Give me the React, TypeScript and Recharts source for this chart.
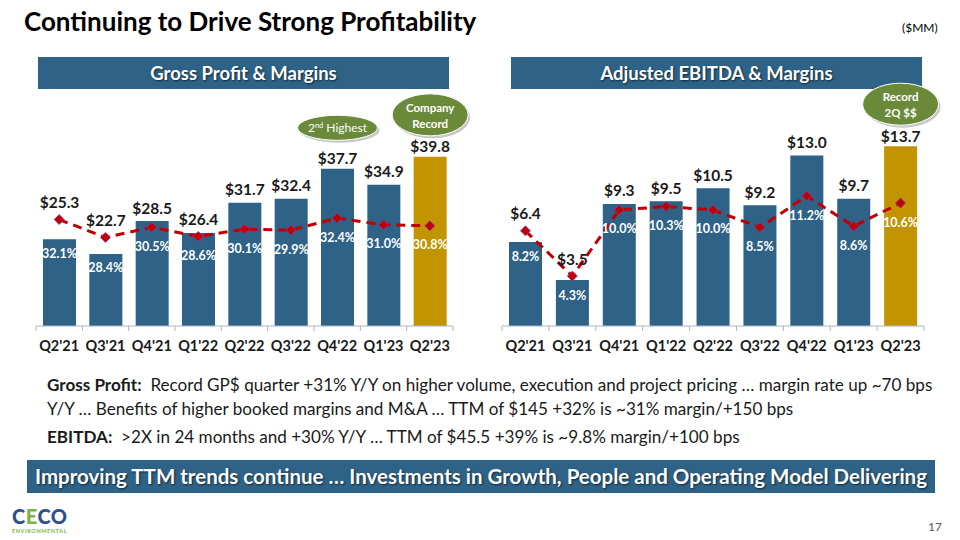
import React from 'react';
import { ComposedChart, Bar, Line, XAxis, YAxis, Cell, LabelList } from 'recharts';

const quarters = ["Q2'21", "Q3'21", "Q4'21", "Q1'22", "Q2'22", "Q3'22", "Q4'22", "Q1'23", "Q2'23"];
const grossProfit = [25.3, 22.7, 28.5, 26.4, 31.7, 32.4, 37.7, 34.9, 39.8];
const grossMargin = [32.1, 28.4, 30.5, 28.6, 30.1, 29.9, 32.4, 31.0, 30.8];
const ebitda = [6.4, 3.5, 9.3, 9.5, 10.5, 9.2, 13.0, 9.7, 13.7];
const ebitdaMargin = [8.2, 4.3, 10.0, 10.3, 10.0, 8.5, 11.2, 8.6, 10.6];
const highlightIndex = 8;
const gpBadges = [
  { index: 6, lines: ['2nd Highest'] },
  { index: 8, lines: ['Company', 'Record'] },
];
const ebitdaBadges = [{ index: 8, lines: ['Record', '2Q $$'] }];

const FONT = 'Lato, "Open Sans", sans-serif';
const BLUE = '#2e6286';
const GOLD = '#c29400';
const RED = '#c00000';
const GREEN = '#6a8a3a';
const DARK = '#1a1a1a';

type Badge = { index: number; lines: string[] };

function buildData(values: number[], margins: number[]) {
  return quarters.map((q, i) => ({ q, v: values[i], m: margins[i] }));
}

function Diamond(props: any) {
  const { cx, cy } = props;
  if (cx == null || cy == null) return null;
  const r = 5;
  return (
    <path
      d={`M${cx},${cy - r} L${cx + r},${cy} L${cx},${cy + r} L${cx - r},${cy} Z`}
      fill={RED}
      stroke="#8a3aa8"
      strokeWidth={0.8}
    />
  );
}

function sup(s: string) {
  const m = s.match(/^(\d+)(st|nd|rd|th)(.*)$/);
  if (!m) return s;
  return (
    <>
      {m[1]}
      <tspan fontSize={7.5} dy={-4}>
        {m[2]}
      </tspan>
      <tspan dy={4}>{m[3]}</tspan>
    </>
  );
}

function BadgeShape({ cx, cy, lines }: { cx: number; cy: number; lines: string[] }) {
  const two = lines.length > 1;
  const rx = two ? 38 : 40;
  const ry = two ? 21 : 12.5;
  return (
    <g>
      <ellipse cx={cx + 2} cy={cy + 2.5} rx={rx} ry={ry} fill="#9a9a9a" opacity={0.55} />
      <ellipse cx={cx} cy={cy} rx={rx} ry={ry} fill={GREEN} stroke="#ffffff" strokeWidth={1} />
      {two ? (
        lines.map((l, i) => (
          <text
            key={i}
            x={cx}
            y={cy + (i === 0 ? -3 : 13)}
            textAnchor="middle"
            fill="#ffffff"
            fontFamily={FONT}
            fontWeight={700}
            fontSize={11.5}
          >
            {l}
          </text>
        ))
      ) : (
        <text x={cx} y={cy + 4} textAnchor="middle" fill="#ffffff" fontFamily={FONT} fontSize={12}>
          {sup(lines[0])}
        </text>
      )}
    </g>
  );
}

function makeBarLabel(
  values: number[],
  margins: number[],
  yDomain: [number, number],
  mDomain: [number, number],
  badges: Badge[]
) {
  return (props: any) => {
    const { x, y, width, height, index } = props;
    const v = values[index];
    const bottom = y + height;
    const pxPerUnit = height / (v - yDomain[0]);
    const plotH = pxPerUnit * (yDomain[1] - yDomain[0]);
    const pointY = bottom - ((margins[index] - mDomain[0]) / (mDomain[1] - mDomain[0])) * plotH;
    const cx = x + width / 2;
    const badge = badges.find((b) => b.index === index);
    const gap = badge ? 10 : 13;
    const dollarY = Math.min(y - gap, pointY - 17);
    const pctY = Math.max(pointY + 19, y + 14);
    return (
      <g>
        <text
          x={cx}
          y={dollarY + 5.5}
          textAnchor="middle"
          fill={DARK}
          fontFamily={FONT}
          fontWeight={700}
          fontSize={15.5}
        >
          {'$' + v.toFixed(1)}
        </text>
        <text
          x={cx}
          y={pctY + 4.5}
          textAnchor="middle"
          fill="#ffffff"
          fontFamily={FONT}
          fontWeight={700}
          fontSize={12.5}
        >
          {margins[index].toFixed(1) + '%'}
        </text>
        {badge ? <BadgeShape cx={cx} cy={dollarY - (badge.lines.length > 1 ? 32 : 31)} lines={badge.lines} /> : null}
      </g>
    );
  };
}

function CatTick(props: any) {
  const { x, y, payload, index, width, visibleTicksCount } = props;
  const n = visibleTicksCount || quarters.length;
  const band = width ? width / n : 46.4;
  const c = '#a9b6c6';
  return (
    <g>
      <line x1={x - band / 2} x2={x - band / 2} y1={y} y2={y + 5} stroke={c} strokeWidth={1} />
      {index === n - 1 ? (
        <line x1={x + band / 2} x2={x + band / 2} y1={y} y2={y + 5} stroke={c} strokeWidth={1} />
      ) : null}
      <text x={x} y={y + 25} textAnchor="middle" fill={DARK} fontFamily={FONT} fontWeight={700} fontSize={14.5}>
        {payload.value}
      </text>
    </g>
  );
}

function Panel({
  values,
  margins,
  yDomain,
  mDomain,
  badges,
  margin,
}: {
  values: number[];
  margins: number[];
  yDomain: [number, number];
  mDomain: [number, number];
  badges: Badge[];
  margin: { top: number; right: number; left: number; bottom: number };
}) {
  const data = buildData(values, margins);
  return (
    <ComposedChart width={450} height={270} data={data} margin={margin}>
      <XAxis
        dataKey="q"
        height={34}
        tickSize={0}
        tickMargin={0}
        tickLine={false}
        axisLine={{ stroke: '#a9b6c6', strokeWidth: 1 }}
        tick={<CatTick />}
        interval={0}
      />
      <YAxis yAxisId="v" hide domain={yDomain} allowDataOverflow />
      <YAxis yAxisId="m" hide domain={mDomain} orientation="right" allowDataOverflow />
      <Bar yAxisId="v" dataKey="v" barSize={33} isAnimationActive={false}>
        {data.map((d, i) => (
          <Cell key={d.q} fill={i === highlightIndex ? GOLD : BLUE} />
        ))}
        <LabelList dataKey="v" content={makeBarLabel(values, margins, yDomain, mDomain, badges)} />
      </Bar>
      <Line
        yAxisId="m"
        dataKey="m"
        stroke={RED}
        strokeWidth={3}
        strokeDasharray="9 6"
        dot={<Diamond />}
        activeDot={false}
        isAnimationActive={false}
      />
    </ComposedChart>
  );
}

const headerStyle: React.CSSProperties = {
  position: 'absolute',
  top: 57,
  height: 32,
  width: 411,
  background: BLUE,
  color: '#ffffff',
  fontFamily: FONT,
  fontWeight: 700,
  fontSize: 18.5,
  lineHeight: '32px',
  textAlign: 'center',
  textShadow: '1px 1px 2px rgba(0,0,0,0.6)',
};

const bodyText: React.CSSProperties = {
  position: 'absolute',
  left: 47,
  fontSize: 17.1,
  lineHeight: '24px',
  color: DARK,
  whiteSpace: 'nowrap',
};

export default function App() {
  return (
    <div
      style={{
        position: 'absolute',
        left: 0,
        top: 0,
        width: 960,
        height: 540,
        background: '#ffffff',
        overflow: 'hidden',
        fontFamily: FONT,
      }}
    >
      <style>{'.recharts-surface{overflow:visible}'}</style>
      <div
        style={{
          position: 'absolute',
          left: 24,
          top: 5,
          fontSize: 26,
          fontWeight: 700,
          color: '#000000',
          whiteSpace: 'nowrap',
        }}
      >
        Continuing to Drive Strong Profitability
      </div>
      <div style={{ position: 'absolute', left: 902, top: 20, fontSize: 12, color: '#000000' }}>($MM)</div>

      <div style={{ ...headerStyle, left: 38 }}>Gross Profit &amp; Margins</div>
      <div style={{ ...headerStyle, left: 511 }}>Adjusted EBITDA &amp; Margins</div>

      <div style={{ position: 'absolute', left: 20, top: 90 }}>
        <Panel
          values={grossProfit}
          margins={grossMargin}
          yDomain={[10, 47]}
          mDomain={[10, 53.6]}
          badges={gpBadges}
          margin={{ top: 26, right: 17, left: 16, bottom: 0 }}
        />
      </div>
      <div style={{ position: 'absolute', left: 490, top: 90 }}>
        <Panel
          values={ebitda}
          margins={ebitdaMargin}
          yDomain={[0, 16]}
          mDomain={[0, 18.1]}
          badges={ebitdaBadges}
          margin={{ top: 26, right: 16, left: 12, bottom: 0 }}
        />
      </div>

      <div style={{ ...bodyText, top: 373 }}>
        <b>Gross Profit:</b>&nbsp; Record GP$ quarter +31% Y/Y on higher volume, execution and project pricing … margin rate up ~70 bps
        <br />
        Y/Y … Benefits of higher booked margins and M&amp;A … TTM of $145 +32% is ~31% margin/+150 bps
      </div>
      <div style={{ ...bodyText, top: 425 }}>
        <b>EBITDA:</b>&nbsp; &gt;2X in 24 months and +30% Y/Y … TTM of $45.5 +39% is ~9.8% margin/+100 bps
      </div>

      <div
        style={{
          position: 'absolute',
          left: 27,
          top: 460,
          width: 908,
          height: 33,
          background: BLUE,
          color: '#ffffff',
          fontWeight: 700,
          fontSize: 20.5,
          lineHeight: '33px',
          textAlign: 'center',
          whiteSpace: 'nowrap',
          textShadow: '1px 1px 2px rgba(0,0,0,0.6)',
        }}
      >
        Improving TTM trends continue … Investments in Growth, People and Operating Model Delivering
      </div>

      <div style={{ position: 'absolute', left: 12, top: 507, lineHeight: 1 }}>
        <div style={{ fontSize: 20, fontWeight: 900, letterSpacing: 0.5, lineHeight: '18px' }}>
          <span style={{ color: '#2f4f8f' }}>C</span>
          <span style={{ color: '#7db343' }}>E</span>
          <span style={{ color: '#2f4f8f' }}>CO</span>
        </div>
        <div style={{ fontSize: 5.5, fontWeight: 700, color: '#7db343', letterSpacing: 0.6, marginTop: 3, lineHeight: '6px' }}>
          ENVIRONMENTAL
        </div>
      </div>
      <div style={{ position: 'absolute', left: 928, top: 519, fontSize: 12, color: '#595959' }}>17</div>
    </div>
  );
}
